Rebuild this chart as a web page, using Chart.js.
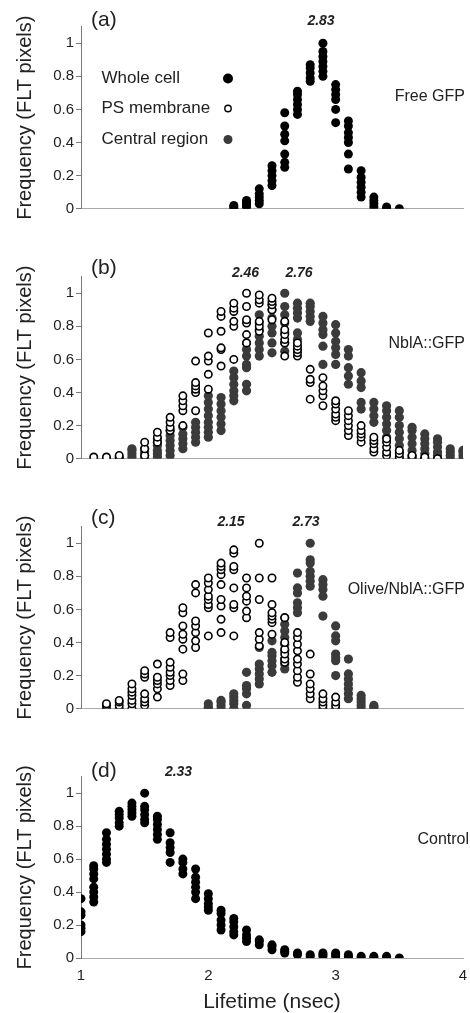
<!DOCTYPE html>
<html>
<head>
<meta charset="utf-8">
<title>FLT histograms</title>
<script src="https://cdn.jsdelivr.net/npm/chart.js@4.4.1/dist/chart.umd.min.js"></script>
<style>
  html, body { margin: 0; padding: 0; background: #fff; }
  #wrap { position: relative; width: 470px; height: 1013px; }
  canvas { position: absolute; left: 0; }
</style>
</head>
<body>
<div id="wrap">
  <canvas id="panelA" width="470" height="250" style="top:0px"></canvas>
  <canvas id="panelB" width="470" height="250" style="top:250px"></canvas>
  <canvas id="panelC" width="470" height="250" style="top:500px"></canvas>
  <canvas id="panelD" width="470" height="263" style="top:750px"></canvas>
</div>
<script>
// axis ticks / labels
const xTicks = [1, 2, 3, 4]
const yTicks = [0, 0.2, 0.4, 0.6, 0.8, 1]
const xTitle = "Lifetime (nsec)"
const yTitle = "Frequency (FLT pixels)"
const seriesNames = ["Whole cell", "PS membrane", "Central region"]

// (a) Free GFP - lifetime bins and replicate frequencies per bin
const binsA = [2.2, 2.3, 2.4, 2.5, 2.6, 2.7, 2.8, 2.9, 3.0, 3.1, 3.2, 3.3, 3.4, 3.5]
const wholeA = [
  [0, 0.01, 0.02],
  [0.01, 0.02, 0.03, 0.04, 0.05],
  [0.03, 0.05, 0.07, 0.09, 0.12],
  [0.14, 0.17, 0.2, 0.23, 0.26],
  [0.25, 0.28, 0.33, 0.41, 0.45, 0.5, 0.58],
  [0.57, 0.6, 0.63, 0.66, 0.69, 0.71],
  [0.77, 0.79, 0.82, 0.85, 0.87],
  [0.8, 0.83, 0.86, 0.89, 0.92, 0.95, 1.0],
  [0.52, 0.6, 0.66, 0.69, 0.72, 0.75],
  [0.24, 0.33, 0.4, 0.43, 0.46, 0.5, 0.53],
  [0.07, 0.1, 0.13, 0.16, 0.19, 0.23],
  [0.01, 0.03, 0.05, 0.07],
  [0, 0.01],
  [0],
]

// (b) NblA::GFP
const binsB = [1.1, 1.2, 1.3, 1.4, 1.5, 1.6, 1.7, 1.8, 1.9, 2.0, 2.1, 2.2, 2.3, 2.4, 2.5,
  2.6, 2.7, 2.8, 2.9, 3.0, 3.1, 3.2, 3.3, 3.4, 3.5, 3.6, 3.7, 3.8, 3.9, 4.0]
const membraneB = [
  [0.01], [0, 0.01], [0, 0.01, 0.02], [],
  [0.02, 0.06, 0.1],
  [0.1, 0.13, 0.16],
  [0.17, 0.19, 0.22, 0.25],
  [0.2, 0.29, 0.32, 0.35, 0.38],
  [0.29, 0.4, 0.42, 0.44, 0.46, 0.59],
  [0.42, 0.51, 0.59, 0.62, 0.76],
  [0.56, 0.66, 0.67, 0.77, 0.86, 0.89],
  [0.6, 0.8, 0.83, 0.89, 0.91, 0.94],
  [0.7, 0.75, 0.82, 0.84, 0.92, 1.0],
  [0.77, 0.8, 0.83, 0.94, 0.96, 0.99],
  [0.84, 0.9, 0.93, 0.95, 0.97],
  [0.62, 0.7, 0.72, 0.75, 0.78, 0.83],
  [0.62, 0.64, 0.66, 0.68, 0.7],
  [0.36, 0.46, 0.48, 0.54],
  [0.32, 0.38, 0.41, 0.44, 0.49],
  [0.23, 0.25, 0.27, 0.3, 0.33, 0.35],
  [0.14, 0.17, 0.2, 0.23, 0.26, 0.29],
  [0.1, 0.13, 0.15, 0.17, 0.2],
  [0.04, 0.06, 0.09, 0.11, 0.13],
  [0.02, 0.04, 0.07, 0.1, 0.12],
  [0, 0.01, 0.03, 0.05],
  [0, 0.01, 0.02],
  [0, 0.01],
  [0], [], [],
]
const centralB = [
  [], [], [],
  [0.01, 0.03, 0.05, 0.06],
  [0, 0.02, 0.04, 0.06],
  [0.01, 0.03, 0.05, 0.08, 0.1, 0.12],
  [0.02, 0.05, 0.08, 0.11, 0.14, 0.17],
  [0.06, 0.09, 0.12, 0.15, 0.19],
  [0.1, 0.13, 0.16, 0.19, 0.22],
  [0.13, 0.16, 0.19, 0.22, 0.26, 0.3, 0.34, 0.38],
  [0.17, 0.21, 0.25, 0.29, 0.33, 0.37],
  [0.35, 0.38, 0.41, 0.45, 0.49, 0.53],
  [0.41, 0.45, 0.55, 0.57, 0.62, 0.66, 0.7],
  [0.62, 0.66, 0.7, 0.74, 0.78, 0.82, 0.87],
  [0.64, 0.7, 0.76, 0.8, 0.85, 0.9, 0.93],
  [0.65, 0.7, 0.76, 0.82, 0.87, 0.92, 1.0],
  [0.66, 0.72, 0.76, 0.85, 0.88, 0.91, 0.94],
  [0.83, 0.86, 0.89, 0.92, 0.94],
  [0.57, 0.68, 0.75, 0.78, 0.82, 0.86],
  [0.57, 0.63, 0.67, 0.71, 0.76, 0.81],
  [0.45, 0.5, 0.55, 0.62, 0.66],
  [0.3, 0.34, 0.43, 0.47, 0.52],
  [0.22, 0.26, 0.3, 0.34],
  [0.13, 0.17, 0.21, 0.25, 0.29, 0.32],
  [0.04, 0.08, 0.12, 0.16, 0.2, 0.25, 0.29],
  [0.02, 0.05, 0.09, 0.13, 0.17, 0.19],
  [0, 0.03, 0.06, 0.09, 0.12, 0.15],
  [0, 0.02, 0.04, 0.07, 0.1, 0.12],
  [0, 0.02, 0.04, 0.06],
  [0, 0.02, 0.04, 0.05],
]

// (c) Olive/NblA::GFP
const binsC = [1.2, 1.3, 1.4, 1.5, 1.6, 1.7, 1.8, 1.9, 2.0, 2.1, 2.2, 2.3, 2.4, 2.5,
  2.6, 2.7, 2.8, 2.9, 3.0, 3.1, 3.2, 3.3]
const membraneC = [
  [0, 0.02, 0.03],
  [0, 0.02, 0.04, 0.05],
  [0, 0.03, 0.05, 0.08, 0.1, 0.12, 0.15],
  [0.02, 0.04, 0.06, 0.09, 0.19, 0.21, 0.23],
  [0.07, 0.12, 0.15, 0.17, 0.19, 0.27],
  [0.14, 0.17, 0.2, 0.22, 0.25, 0.28, 0.43, 0.46],
  [0.17, 0.21, 0.36, 0.42, 0.45, 0.5, 0.58, 0.61],
  [0.37, 0.41, 0.46, 0.5, 0.53, 0.7, 0.75],
  [0.44, 0.61, 0.63, 0.66, 0.68, 0.72, 0.76, 0.79],
  [0.46, 0.54, 0.62, 0.66, 0.75, 0.81, 0.84, 0.86, 0.88],
  [0.44, 0.61, 0.63, 0.73, 0.84, 0.86, 0.94, 0.96],
  [0.55, 0.59, 0.65, 0.68, 0.73, 0.79],
  [0.38, 0.42, 0.46, 0.66, 0.79, 1.0],
  [0.45, 0.52, 0.54, 0.56, 0.58, 0.63, 0.79],
  [0.28, 0.3, 0.33, 0.36, 0.4, 0.55],
  [0.16, 0.19, 0.23, 0.27, 0.3, 0.35, 0.39, 0.43, 0.46],
  [0.06, 0.09, 0.12, 0.15, 0.21, 0.33],
  [0, 0.02, 0.04, 0.06, 0.09],
  [0, 0.02, 0.04, 0.07],
  [], [], [],
]
const centralC = [
  [], [], [], [], [], [], [], [],
  [0, 0.01, 0.03],
  [0, 0.02, 0.04, 0.05],
  [0, 0.03, 0.05, 0.07, 0.09],
  [0.02, 0.09, 0.12, 0.14, 0.22],
  [0.15, 0.18, 0.21, 0.24, 0.27, 0.37],
  [0.22, 0.26, 0.29, 0.32, 0.34, 0.41],
  [0.24, 0.27, 0.3, 0.35, 0.39, 0.43, 0.47, 0.51, 0.55],
  [0.58, 0.61, 0.64, 0.7, 0.73, 0.82],
  [0.74, 0.77, 0.8, 0.83, 0.88, 0.9, 1.0],
  [0.56, 0.68, 0.72, 0.75, 0.78],
  [0.2, 0.29, 0.31, 0.33, 0.41, 0.44, 0.5],
  [0.06, 0.09, 0.12, 0.15, 0.18, 0.21, 0.3],
  [0, 0.02, 0.04, 0.06, 0.08],
  [0, 0.01, 0.02],
]

// (d) Control
const binsD = [1.0, 1.1, 1.2, 1.3, 1.4, 1.5, 1.6, 1.7, 1.8, 1.9, 2.0, 2.1, 2.2, 2.3,
  2.4, 2.5, 2.6, 2.7, 2.8, 2.9, 3.0, 3.1, 3.2, 3.3, 3.4, 3.5]
const wholeD = [
  [0.16, 0.18, 0.2, 0.26, 0.28, 0.36],
  [0.34, 0.37, 0.4, 0.43, 0.48, 0.51, 0.54, 0.56],
  [0.58, 0.6, 0.63, 0.66, 0.69, 0.72, 0.76],
  [0.8, 0.82, 0.85, 0.87, 0.89],
  [0.86, 0.88, 0.9, 0.92, 0.94],
  [0.82, 0.84, 0.87, 0.9, 0.92, 1.0],
  [0.72, 0.75, 0.78, 0.81, 0.84, 0.86],
  [0.58, 0.64, 0.67, 0.7, 0.76],
  [0.51, 0.54, 0.58, 0.6],
  [0.36, 0.4, 0.43, 0.46, 0.49, 0.54],
  [0.29, 0.31, 0.33, 0.36, 0.39],
  [0.17, 0.2, 0.23, 0.27, 0.29],
  [0.14, 0.16, 0.19, 0.22, 0.24],
  [0.1, 0.12, 0.14, 0.17],
  [0.08, 0.1, 0.11],
  [0.05, 0.07, 0.08],
  [0.03, 0.04, 0.05],
  [0.02, 0.03],
  [0.01, 0.02],
  [0.01, 0.02, 0.03],
  [0.01, 0.02, 0.03],
  [0, 0.01, 0.02],
  [0, 0.01],
  [0, 0.01],
  [0, 0.01],
  [0],
]

const FONT = "'Liberation Sans', Arial, sans-serif"
const TEXT = "#222"

function toPoints(bins, cols) {
  const pts = []
  bins.forEach((x, i) => {
    cols[i].forEach((y) => pts.push({ x: x, y: y }))
  })
  return pts
}

// marker styles for the three regions
const looks = {
  whole: { pointBackgroundColor: "#000", pointBorderColor: "#000", pointBorderWidth: 0, pointRadius: 4.5, order: 2 },
  membrane: { pointBackgroundColor: "#fff", pointBorderColor: "#000", pointBorderWidth: 1.6, pointRadius: 3.7, order: 0 },
  central: { pointBackgroundColor: "#3b3b3b", pointBorderColor: "#3b3b3b", pointBorderWidth: 0, pointRadius: 4.6, order: 1 },
}

function series(name, look, bins, cols) {
  return Object.assign({ label: name, data: toPoints(bins, cols), showLine: false, pointHoverRadius: 0 }, looks[look])
}

// plugin that writes panel letters, mean lifetimes, sample names and the legend
function notes(items, marks) {
  return {
    id: "notes",
    afterDraw(chart) {
      const ctx = chart.ctx
      ctx.save()
      items.forEach((t) => {
        ctx.font = t.font
        ctx.fillStyle = TEXT
        ctx.textAlign = t.align || "left"
        ctx.textBaseline = "middle"
        ctx.fillText(t.text, t.x, t.y)
      })
      ;(marks || []).forEach((m) => {
        ctx.beginPath()
        ctx.arc(m.x, m.y, m.r, 0, Math.PI * 2)
        ctx.fillStyle = m.fill
        ctx.fill()
        if (m.stroke) {
          ctx.lineWidth = 1.4
          ctx.strokeStyle = m.stroke
          ctx.stroke()
        }
      })
      ctx.restore()
    },
  }
}

function makePanel(id, datasets, cfg) {
  return new Chart(document.getElementById(id), {
    type: "scatter",
    data: { datasets: datasets },
    options: {
      responsive: false,
      animation: false,
      devicePixelRatio: 1,
      events: [],
      layout: { padding: { top: 26.7, right: 7, left: 0, bottom: 0 } },
      plugins: { legend: { display: false }, tooltip: { enabled: false } },
      scales: {
        x: {
          type: "linear",
          min: 1,
          max: 4,
          afterFit: (s) => {
            s.height = cfg.xHeight
            s.paddingLeft = 0
            s.paddingRight = 0
          },
          afterBuildTicks: (s) => { s.ticks = xTicks.map((v) => ({ value: v })) },
          grid: { display: false, drawTicks: false },
          border: { color: "#a8a8a8", width: 1 },
          ticks: { display: cfg.showX, padding: 9, color: TEXT, font: { family: FONT, size: 15 } },
          title: {
            display: cfg.showX, text: xTitle, color: TEXT, padding: 0,
            font: { family: FONT, size: 21, lineHeight: 1 },
          },
        },
        y: {
          type: "linear",
          min: 0,
          max: 1.1,
          afterFit: (s) => { s.width = 81 },
          afterBuildTicks: (s) => { s.ticks = yTicks.map((v) => ({ value: v })) },
          grid: { drawOnChartArea: false, drawTicks: true, tickLength: 5, color: "#7a7a7a" },
          border: { color: "#7a7a7a", width: 1 },
          ticks: { padding: 2, color: TEXT, font: { family: FONT, size: 15 }, callback: (v) => String(v) },
          title: {
            display: true, text: yTitle, color: TEXT, padding: { top: 13, bottom: 0 },
            font: { family: FONT, size: 20, lineHeight: 1.2 },
          },
        },
      },
    },
    plugins: [notes(cfg.items, cfg.marks)],
  })
}

const big = "21px " + FONT
const mid = "17px " + FONT
const side = "16px " + FONT
const mean = "italic bold 14px " + FONT

makePanel("panelA", [series(seriesNames[0], "whole", binsA, wholeA)], {
  xHeight: 41.3,
  showX: false,
  items: [
    { text: "(a)", x: 91, y: 20, font: big },
    { text: "2.83", x: 321, y: 21, font: mean, align: "center" },
    { text: seriesNames[0], x: 101.5, y: 78, font: mid },
    { text: seriesNames[1], x: 101.5, y: 108, font: mid },
    { text: seriesNames[2], x: 101.5, y: 139, font: mid },
    { text: "Free GFP", x: 465, y: 97, font: side, align: "right" },
  ],
  marks: [
    { x: 228, y: 78.5, r: 5, fill: "#000" },
    { x: 228, y: 108.5, r: 3.2, fill: "#fff", stroke: "#000" },
    { x: 228, y: 139.5, r: 4.5, fill: "#3b3b3b" },
  ],
})

makePanel("panelB", [
  series(seriesNames[1], "membrane", binsB, membraneB),
  series(seriesNames[2], "central", binsB, centralB),
], {
  xHeight: 41.3,
  showX: false,
  items: [
    { text: "(b)", x: 91, y: 18.5, font: big },
    { text: "2.46", x: 245.5, y: 22.7, font: mean, align: "center" },
    { text: "2.76", x: 299, y: 22.7, font: mean, align: "center" },
    { text: "NblA::GFP", x: 465, y: 93.3, font: side, align: "right" },
  ],
})

makePanel("panelC", [
  series(seriesNames[1], "membrane", binsC, membraneC),
  series(seriesNames[2], "central", binsC, centralC),
], {
  xHeight: 41.3,
  showX: false,
  items: [
    { text: "(c)", x: 91, y: 18.5, font: big },
    { text: "2.15", x: 231, y: 21.7, font: mean, align: "center" },
    { text: "2.73", x: 306, y: 21.7, font: mean, align: "center" },
    { text: "Olive/NblA::GFP", x: 465, y: 90, font: side, align: "right" },
  ],
})

makePanel("panelD", [series(seriesNames[0], "whole", binsD, wholeD)], {
  xHeight: 55,
  showX: true,
  items: [
    { text: "(d)", x: 91, y: 20.8, font: big },
    { text: "2.33", x: 178.5, y: 21.7, font: mean, align: "center" },
    { text: "Control", x: 469, y: 90, font: side, align: "right" },
  ],
})
</script>
</body>
</html>
